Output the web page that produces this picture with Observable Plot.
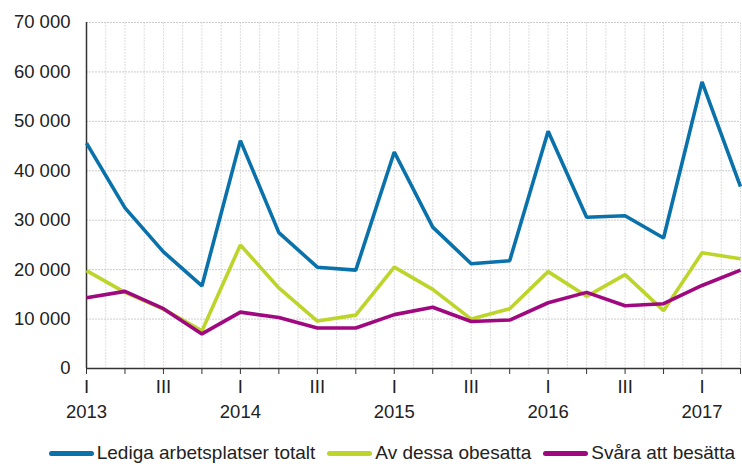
<!DOCTYPE html>
<html><head><meta charset="utf-8">
<script src="https://cdn.jsdelivr.net/npm/d3@7"></script>
<script src="https://cdn.jsdelivr.net/npm/@observablehq/plot@0.6"></script>
<style>
body{margin:0;background:#fff;font-family:"Liberation Sans",Arial,sans-serif;}
#legend{display:flex;justify-content:flex-end;align-items:center;gap:12px;padding-right:7px;margin-top:18px;font-size:19px;line-height:22px;color:#222;}
.item{display:flex;align-items:center;}
.sw{display:inline-block;width:45px;height:5px;margin-right:3px;border-radius:2.5px;}
</style></head>
<body>
<div id="chart"></div>
<div id="legend"></div>
<script>
const years = [2013, 2014, 2015, 2016, 2017];
const quarterLabels = ["I", "", "III", ""];
const seriesNames = ["Lediga arbetsplatser totalt", "Av dessa obesatta", "Svåra att besätta"];
const seriesColors = ["#0a72ab", "#bdd52a", "#a0087f"];
const totalt = [45600, 32500, 23600, 16700, 46100, 27500, 20500, 19900, 43800, 28600, 21200, 21800, 48000, 30600, 30900, 26400, 58000, 36800];
const obesatta = [19800, 15400, 12000, 7600, 25000, 16300, 9600, 10800, 20500, 16000, 10000, 12100, 19600, 14600, 19000, 11700, 23400, 22200];
const svara = [14300, 15600, 12100, 7000, 11400, 10300, 8200, 8200, 10900, 12400, 9500, 9800, 13300, 15400, 12700, 13100, 16800, 19900];
const yTicks = [0, 10000, 20000, 30000, 40000, 50000, 60000, 70000];

const allSeries = [totalt, obesatta, svara];
const data = [];
allSeries.forEach((arr, s) => arr.forEach((v, i) => data.push({i, v, s: seriesNames[s]})));
const qIdx = d3.range(totalt.length);
const fmt = d => d3.format(",")(d).replace(/,/g, " ");

const chart = Plot.plot({
  width: 742, height: 424,
  marginLeft: 86, marginRight: 2, marginTop: 22, marginBottom: 56,
  style: {fontFamily: "Liberation Sans, Arial, sans-serif", fontSize: "18px", color: "#222"},
  x: {domain: [0, totalt.length - 1], axis: null},
  y: {domain: [0, 70000], axis: null},
  color: {domain: seriesNames, range: seriesColors},
  marks: [
    Plot.gridX(d3.range(0, totalt.length - 0.5, 0.5), {stroke: "#ddd", strokeOpacity: 1, strokeDasharray: "2,1"}),
    Plot.gridY(yTicks, {stroke: "#ccc", strokeOpacity: 1, strokeDasharray: "2,1"}),
    Plot.axisY(yTicks, {tickSize: 0, tickPadding: 16, tickFormat: fmt, fontSize: 18.5, fill: "#222", label: null}),
    Plot.axisX(qIdx, {tickSize: 6, tickPadding: 5, tickFormat: i => quarterLabels[i % 4], fontSize: 18.5, stroke: "#333", fill: "#222", label: null}),
    Plot.axisX(years.map((y, k) => k * 4), {tickSize: 0, tickPadding: 36, tickFormat: (d) => String(years[d / 4]), fontSize: 18.5, fill: "#222", label: null}),
    Plot.ruleX([0], {stroke: "#333", strokeWidth: 1.5}),
    Plot.ruleY([0], {stroke: "#333", strokeWidth: 1.5}),
    Plot.line(data, {x: "i", y: "v", z: "s", stroke: "s", strokeWidth: 3.6, strokeLinejoin: "miter", strokeLinecap: "butt"})
  ]
});
document.getElementById("chart").append(chart);

const leg = document.getElementById("legend");
seriesNames.forEach((n, k) => {
  const it = document.createElement("span"); it.className = "item";
  const sw = document.createElement("span"); sw.className = "sw"; sw.style.background = seriesColors[k];
  it.append(sw, document.createTextNode(n));
  leg.append(it);
});
</script>
</body></html>
